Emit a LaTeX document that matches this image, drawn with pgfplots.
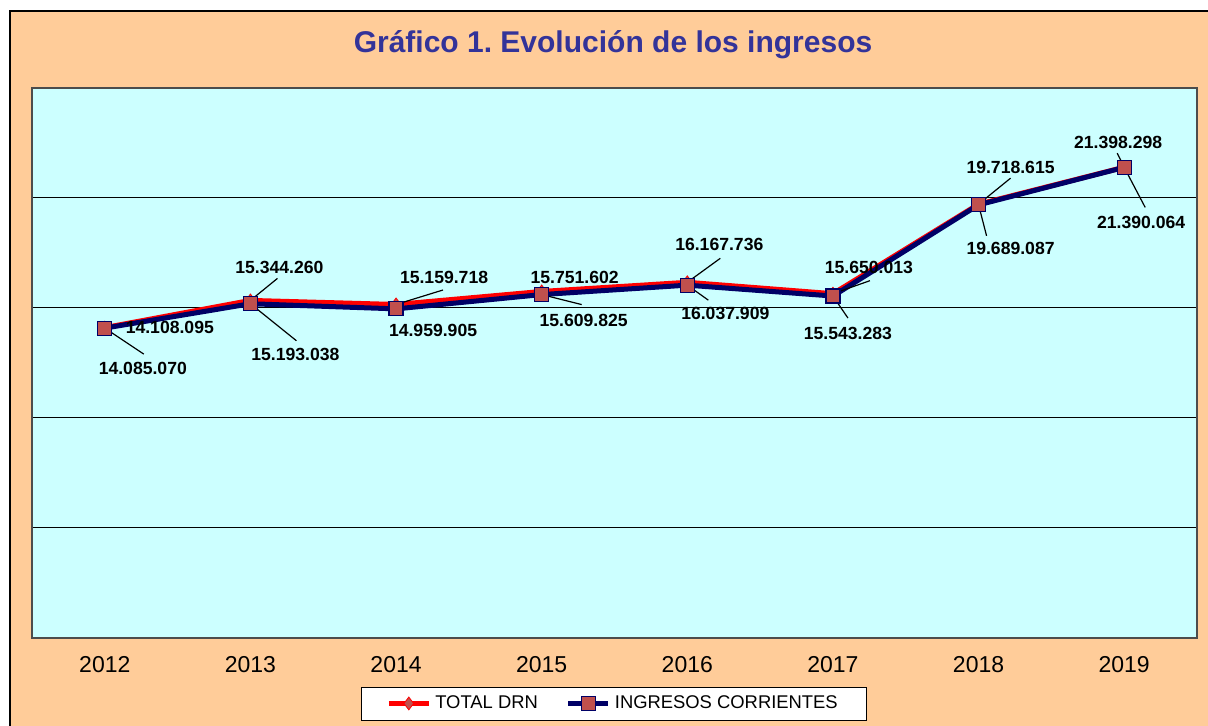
\documentclass[border=0pt]{standalone}
\usepackage{fontspec}
\setmainfont{Liberation Sans}
\usepackage{pgfplots}
\pgfplotsset{compat=1.18}
\frenchspacing
\definecolor{peach}{HTML}{FFCC99}
\definecolor{plotbg}{HTML}{CCFFFF}
\definecolor{titleblue}{HTML}{333399}
\definecolor{navy}{HTML}{000066}
\definecolor{mkred}{HTML}{C0504D}
\pgfplotstableread{
x v
0 14108095
1 15344260
2 15159718
3 15751602
4 16167736
5 15650013
6 19718615
7 21398298
}\totaldrn
\pgfplotstableread{
x v
0 14085070
1 15193038
2 14959905
3 15609825
4 16037909
5 15543283
6 19689087
7 21390064
}\ingcorr
\begin{document}
\begin{tikzpicture}
\useasboundingbox (0,0) rectangle (604pt,363pt);
\fill[white] (0,0) rectangle (604pt,363pt);
\fill[peach] (5pt,0) rectangle (604pt,357.5pt);
\draw[black, line width=0.8pt] (5pt,0) -- (5pt,357.5pt) -- (604pt,357.5pt);
\node[font=\fontsize{15}{18}\selectfont\bfseries, text=titleblue] at (306.5pt,340.5pt) {Gráfico 1. Evolución de los ingresos};
\begin{axis}[
  at={(16pt,44pt)}, anchor=south west,
  width=582.5pt, height=275pt, scale only axis,
  xmin=-0.5, xmax=7.5, ymin=0, ymax=25000000,
  scaled y ticks=false,
  axis background/.style={fill=plotbg},
  axis line style={draw=gray!60!black, line width=0.8pt},
  xtick={0,...,7}, xticklabels={2012,2013,2014,2015,2016,2017,2018,2019},
  xticklabel style={font=\fontsize{11.5}{13}\selectfont, yshift=-5.5pt},
  major tick length=0pt,
  ytick={0,5000000,10000000,15000000,20000000,25000000},
  yticklabels={},
  ymajorgrids, grid style={black, line width=0.5pt},
  legend style={at={(0.4996,-0.119)}, anchor=center, draw=black, fill=white,
    font=\fontsize{9.2}{11}\selectfont, inner xsep=12.5pt, inner ysep=2.3pt,
    /tikz/every even column/.append style={column sep=12pt}},
  legend columns=2,
  legend image code/.code={\draw[mark repeat=2,mark phase=2,#1] plot coordinates {(0pt,0pt) (10pt,0pt) (20pt,0pt)};},
  clip=false,
]
\addplot[red, line width=2.5pt, mark=diamond*, mark size=3.2pt, mark options={fill=mkred, draw=red, line width=0.4pt}] table[x=x,y=v] {\totaldrn};
\addlegendentry{TOTAL DRN}
\addplot[navy, line width=2.5pt, mark=square*, mark size=3.5pt, mark options={fill=mkred, draw=navy, line width=0.6pt}] table[x=x,y=v] {\ingcorr};
\addlegendentry{INGRESOS CORRIENTES}
\tikzset{lbl/.style={font=\fontsize{8.8}{10}\selectfont\bfseries, inner sep=0pt}, ldr/.style={black, line width=0.6pt}}
% 2012
\node[lbl, xshift=32.5pt, yshift=0pt] at (axis cs:0,14108095) {14.108.095};
\draw[ldr] (axis cs:0,14085070) -- ++(19.5pt,-13pt);
\node[lbl, xshift=19pt, yshift=-20pt] at (axis cs:0,14085070) {14.085.070};
% 2013
\draw[ldr] (axis cs:1,15344260) -- ++(13.5pt,11pt);
\node[lbl, xshift=14.5pt, yshift=16.5pt] at (axis cs:1,15344260) {15.344.260};
\draw[ldr] (axis cs:1,15193038) -- ++(23pt,-18.5pt);
\node[lbl, xshift=22.5pt, yshift=-25.5pt] at (axis cs:1,15193038) {15.193.038};
% 2014
\draw[ldr] (axis cs:2,15159718) -- ++(23.5pt,7.25pt);
\node[lbl, xshift=24pt, yshift=13.75pt] at (axis cs:2,15159718) {15.159.718};
\node[lbl, xshift=18.5pt, yshift=-11pt] at (axis cs:2,14959905) {14.959.905};
% 2015
\node[lbl, xshift=16.5pt, yshift=7.25pt] at (axis cs:3,15751602) {15.751.602};
\draw[ldr] (axis cs:3,15609825) -- ++(20pt,-5pt);
\node[lbl, xshift=21pt, yshift=-12.7pt] at (axis cs:3,15609825) {15.609.825};
% 2016
\draw[ldr] (axis cs:4,16167736) -- ++(16.5pt,12pt);
\node[lbl, xshift=16pt, yshift=19pt] at (axis cs:4,16167736) {16.167.736};
\draw[ldr] (axis cs:4,16037909) -- ++(10.5pt,-7.5pt);
\node[lbl, xshift=19pt, yshift=-14pt] at (axis cs:4,16037909) {16.037.909};
% 2017
\draw[ldr] (axis cs:5,15650013) -- ++(18.5pt,6.5pt);
\node[lbl, xshift=18pt, yshift=13pt] at (axis cs:5,15650013) {15.650.013};
\draw[ldr] (axis cs:5,15543283) -- ++(7.5pt,-11pt);
\node[lbl, xshift=7.5pt, yshift=-18.5pt] at (axis cs:5,15543283) {15.543.283};
% 2018
\draw[ldr] (axis cs:6,19718615) -- ++(16pt,13pt);
\node[lbl, xshift=16pt, yshift=18.5pt] at (axis cs:6,19718615) {19.718.615};
\draw[ldr] (axis cs:6,19689087) -- ++(4pt,-15.5pt);
\node[lbl, xshift=16pt, yshift=-22pt] at (axis cs:6,19689087) {19.689.087};
% 2019
\draw[ldr] (axis cs:7,21398298) -- ++(-3.5pt,7pt);
\node[lbl, xshift=-3pt, yshift=12.5pt] at (axis cs:7,21398298) {21.398.298};
\draw[ldr] (axis cs:7,21390064) -- ++(10.5pt,-20pt);
\node[lbl, xshift=8.5pt, yshift=-27.5pt] at (axis cs:7,21390064) {21.390.064};
\end{axis}
\end{tikzpicture}
\end{document}
